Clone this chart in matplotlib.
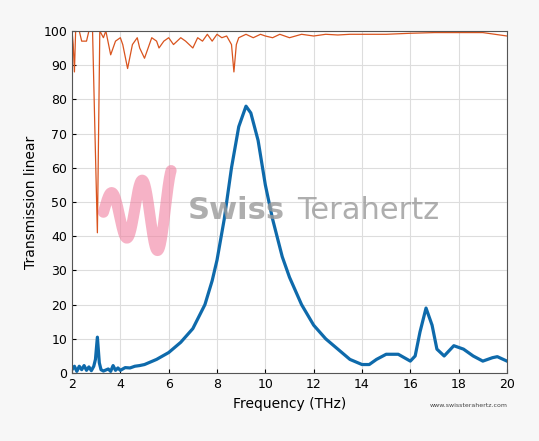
import matplotlib.pyplot as plt
import numpy as np

blue_f = [2, 2.1, 2.2, 2.3, 2.4, 2.5, 2.6, 2.7, 2.8, 2.9, 2.97, 3.05, 3.13, 3.2, 3.3, 3.5, 3.6, 3.7, 3.8, 3.9, 4.0, 4.2, 4.4, 4.6, 4.8, 5.0, 5.5,
          6.0, 6.5, 7.0, 7.5, 7.8, 8.0, 8.3, 8.6, 8.9, 9.2, 9.4, 9.7, 10.0, 10.3, 10.7, 11.0, 11.5, 12.0,
          12.5, 13.0, 13.5, 14.0, 14.3, 14.6, 15.0, 15.5, 16.0, 16.2, 16.4, 16.65, 16.9, 17.1, 17.4, 17.8,
          18.2, 18.6, 19.0, 19.4, 19.6, 20.0]
blue_v = [1, 2, 0.5, 2, 1, 2.2, 0.8, 1.8, 0.7, 2, 4, 10.5, 3, 1, 0.6, 1.2, 0.5, 2.2, 0.8, 1.5, 0.8, 1.6, 1.5, 2, 2.2, 2.5, 4,
          6, 9, 13, 20, 27, 33, 45, 60, 72, 78, 76, 68, 55, 45, 34, 28, 20, 14,
          10, 7, 4, 2.5, 2.5, 4, 5.5, 5.5, 3.5, 5, 12, 19, 14, 7, 5, 8,
          7, 5, 3.5, 4.5, 4.8, 3.5]

red_f = [2, 2.05, 2.1, 2.15, 2.3, 2.4, 2.5, 2.6, 2.7, 2.85, 2.95, 3.05, 3.15, 3.3, 3.4, 3.6, 3.8, 4.0, 4.1,
         4.3, 4.5, 4.7, 4.8, 5.0, 5.3, 5.5, 5.6, 5.8, 6.0, 6.2, 6.5, 6.7, 7.0, 7.2, 7.4, 7.6, 7.8, 8.0,
         8.2, 8.4, 8.6, 8.7, 8.8, 8.9, 9.2, 9.5, 9.8, 10.0, 10.3, 10.6, 11.0, 11.5, 12.0, 12.5, 13.0,
         13.5, 14.0, 15.0, 16.0, 17.0, 18.0, 19.0, 19.5, 20.0]
red_v = [100, 96, 88, 100, 100, 97, 97, 97, 100, 100, 70, 41, 100, 98, 100, 93, 97, 98, 96,
         89, 96, 98, 95, 92, 98, 97, 95, 97, 98, 96, 98, 97, 95, 98, 97, 99, 97, 99,
         98, 98.5, 96, 88, 96, 98, 99, 98, 99, 98.5, 98, 99, 98, 99, 98.5, 99, 98.8,
         99, 99, 99, 99.3, 99.5, 99.5, 99.5, 99, 98.5]

fig = plt.figure(figsize=(5.39, 4.41), dpi=100, facecolor='#f7f7f7')
ax = fig.add_axes([0.1336, 0.154, 0.807, 0.776])
ax.set_facecolor('white')
ax.plot(red_f, red_v, color='#d9541e', lw=0.9)
ax.plot(blue_f, blue_v, color='#0e6aab', lw=2.3)
ax.set_xlim(2, 20)
ax.set_ylim(0, 100)
ax.set_xticks(range(2, 21, 2))
ax.set_yticks(range(0, 101, 10))
ax.grid(color='#dddddd', lw=0.8)
ax.tick_params(labelsize=9, direction='in', length=3)
for s in ax.spines.values():
    s.set_color('#555555')
ax.set_xlabel('Frequency (THz)', fontsize=10)
ax.set_ylabel('Transmission linear', fontsize=10)

# watermark
t = np.linspace(0, 1, 200)
wx = 3.3 + 2.8 * t
wy = 47 + 8 * np.sin(t * 2 * np.pi * 2.2) * (0.6 + t)
ax.plot(wx, wy, color='#f080a0', lw=8, alpha=0.6, solid_capstyle='round')
ax.text(6.8, 47.5, 'Swiss', fontsize=22, fontweight='bold', color='#9a9a9a', va='center', alpha=0.8)
ax.text(11.3, 47.5, 'Terahertz', fontsize=22, color='#9a9a9a', va='center', alpha=0.8)
fig.text(0.87, 0.078, 'www.swissterahertz.com', fontsize=4.5, color='#444444', ha='center')

fig.savefig('out.png', dpi=100, facecolor=fig.get_facecolor())
